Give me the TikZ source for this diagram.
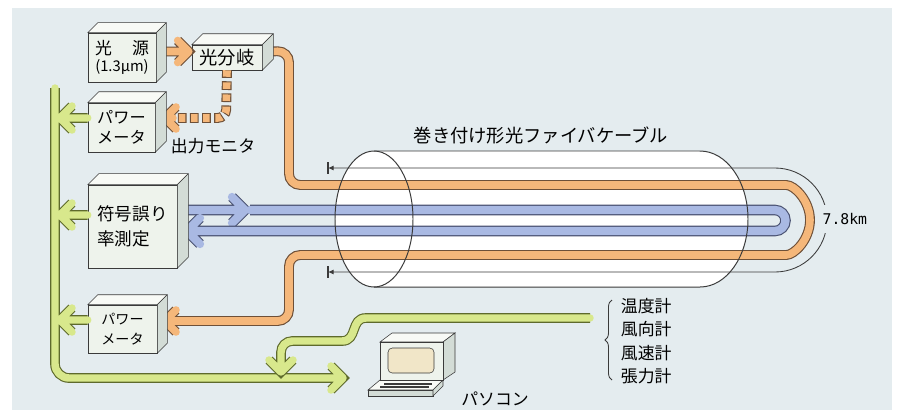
\documentclass[tikz,border=0pt]{standalone}
\usepackage{fontspec}
\setmainfont{Noto Sans CJK JP}
\newfontfamily\kmfont{DejaVu Sans Mono}
\usetikzlibrary{arrows.meta,calc,decorations.pathreplacing}

\definecolor{panel}{HTML}{E4ECEF}
\definecolor{ink}{HTML}{3A3A3A}
\definecolor{boxfront}{HTML}{EEF3EC}
\definecolor{boxtop}{HTML}{F8FAF6}
\definecolor{boxside}{HTML}{D3DCD6}
\definecolor{fibreor}{HTML}{F5B77A}
\definecolor{fibreorline}{HTML}{6E5038}
\definecolor{fibrebl}{HTML}{A9B9E3}
\definecolor{fibreblline}{HTML}{4A5272}
\definecolor{sig}{HTML}{D8E88C}
\definecolor{sigline}{HTML}{5E6A2C}
\definecolor{screen}{HTML}{F1E6C8}

\newcommand\fsz[2]{\fontsize{#1}{#2}\selectfont}
% top and side faces of a unit box
\newcommand\boxdepth[2]{%
  \filldraw[draw=ink, fill=boxtop, line join=round] (#1.north west) -- ++(#2,-#2)
    -- ($(#1.north east)+(#2,-#2)$) -- (#1.north east) -- cycle;
  \filldraw[draw=ink, fill=boxside, line join=round] (#1.north east) -- ++(#2,-#2)
    -- ($(#1.south east)+(#2,-#2)$) -- (#1.south east) -- cycle;}

\tikzset{
  unit/.style={draw=ink, fill=boxfront, inner sep=0pt},
  band/.style n args={3}{draw=#1, line width=#3, line cap=round, line join=round,
    preaction={draw=#2, line width=#3+1.6pt}},
  orband/.style={band={fibreor}{fibreorline}{5.4pt}},
  blband/.style={band={fibrebl}{fibreblline}{5.9pt}},
  sigband/.style={band={sig}{sigline}{5.3pt}},
  ordots/.style={draw=fibreor, line width=5.4pt, dash pattern=on 4.6pt off 4pt,
    preaction={draw=fibreorline, line width=7pt, dash pattern=on 6.2pt off 2.4pt, dash phase=0.8pt}},
  tip r/.style={insert path={++(-#1,-#1) -- ++(#1,#1) -- ++(-#1,#1)}},
  tip l/.style={insert path={++(#1,-#1) -- ++(-#1,#1) -- ++(#1,#1)}},
  tip d/.style={insert path={++(-#1,-#1) -- ++(#1,#1) -- ++(#1,-#1)}},
  thinline/.style={ink, line width=0.6pt}
}

\begin{document}
\begin{tikzpicture}[x=0.025cm,y=-0.025cm]
\useasboundingbox (0,0) rectangle (902,410);
\fill[white] (0,0) rectangle (902,410);
\fill[panel] (12,8) rectangle (892,410);

% units (faces added after the fibres)
\path node[unit, minimum width=1.7cm, minimum height=1.225cm, align=center] (src) at (122,57.5)
  {\fsz{12}{15}光\hspace{1.2em}源\\\fsz{10.5}{12}(1.3μm)};
\path node[unit, minimum width=1.75cm, minimum height=0.625cm, font=\fsz{13}{15}] (split) at (227,57.5) {光分岐};
\path node[unit, minimum width=1.675cm, minimum height=1.225cm, align=center, font=\fsz{11.5}{14.5}] (pm1) at (121.5,127.5) {パワー\\メータ};
\path node[unit, minimum width=2.225cm, minimum height=2.075cm, align=left, font=\fsz{12.5}{18}] (ber) at (132.5,226.5) {符号誤り\\率測定};
\path node[unit, minimum width=1.725cm, minimum height=1.2cm, align=center, font=\fsz{10}{14}] (pm2) at (122.5,329) {パワー\\メータ};

% cable body
\fill[white] (374,151) -- (700,151) arc[start angle=-90,end angle=90,x radius=48,y radius=68]
  -- (374,287) arc[start angle=90,end angle=270,x radius=39,y radius=68] -- cycle;

% orange fibre: source, splitter, loop, power meter
\draw[orband] ($(src.east)+(6,-6)$) -- ($(split.west)+(-3,-6)$) [tip r=11];
\draw[ordots, rounded corners=6pt] (split.south) -- (226,118) -- (173,118);
\draw[orband] (173,118) -- (165,118) [tip l=11];
\draw[orband, rounded corners=8pt] ($(split.east)+(6,-6)$) -- (289,51) -- (289,185) -- (775,185)
  arc[start angle=-90,end angle=90,radius=35] -- (289,255) -- (289,321) -- (165,321) [sharp corners, tip l=11];

% blue fibre: error rate test set
\draw[blband] ($(ber.east)+(6,-16.5)$) -- (245,210) [tip r=13];
\draw[blband] (250,210) -- (775,210) arc[start angle=-90,end angle=90,radius=10.5] -- (187,231) [tip l=13];

% green signal lines
\draw[sigband, rounded corners=10pt] (55,88) -- (55,378) -- (343,378) [sharp corners, tip r=12]
  (pm1.west |- 0,118) -- (60,118) [tip l=12]
  (ber.west |- 0,215) -- (60,215) [tip l=12]
  (pm2.west |- 0,320) -- (60,320) [tip l=12];
\draw[sigband] (590,318) -- (366,318) .. controls (350,318) and (358,341) .. (342,341)
  [rounded corners=8pt] -- (281,341) -- (281,372) [sharp corners, tip d=12];

% cable outline
\draw[ink, line width=0.7pt] (374,219) ellipse[x radius=39, y radius=68];
\draw[ink, line width=0.7pt] (374,151) -- (700,151) arc[start angle=-90,end angle=90,x radius=48,y radius=68] -- (374,287);

% wound length
\draw[thinline, {Latex[length=4pt,width=3.5pt]}-{Latex[length=4pt,width=3.5pt]}] (328,168) -- (775,168)
  arc[start angle=-90,end angle=90,radius=52] -- (328,272);
\draw[thinline, line width=0.8pt] (328,162) -- (328,174) (328,266) -- (328,278);
\node[fill=panel, inner xsep=1pt, inner ysep=6pt, anchor=west, font=\kmfont\fsz{10.5}{12}] (len) at (821,219) {7.8km};

% unit faces
\boxdepth{src}{10}
\boxdepth{split}{11}
\boxdepth{pm1}{11}
\boxdepth{ber}{11}
\boxdepth{pm2}{10}

% personal computer
\filldraw[draw=ink, fill=boxtop] (380,380) -- (443,380) -- (433,390) -- (368,390) -- cycle;
\filldraw[draw=ink, fill=boxside] (368,390) rectangle (433,396);
\filldraw[draw=ink, fill=boxside] (433,390) -- (443,380) -- (443,386) -- (433,396) -- cycle;
\draw[ink, line width=0.8pt] (384,384) -- (432,384) (380,387) -- (429,387);
\filldraw[draw=ink, fill=boxtop] (380,342) -- (392,333) -- (455,333) -- (443,342) -- cycle;
\filldraw[draw=ink, fill=boxside] (443,342) -- (455,333) -- (455,372) -- (443,380) -- cycle;
\filldraw[draw=ink, fill=boxfront] (380,342) rectangle (443,380);
\filldraw[draw=ink, fill=screen, rounded corners=3pt] (388,348) rectangle (434,373);
\coordinate (pc) at (412,362);

% sensors
\draw[thinline, decorate, decoration={brace, amplitude=5pt}] (612,380) -- (612,300);
\node[anchor=west, font=\fsz{12}{14}] (thermo) at (616,306) {温度計};
\node[anchor=west, font=\fsz{12}{14}] (vane) at (616,329) {風向計};
\node[anchor=west, font=\fsz{12}{14}] (anemo) at (616,353) {風速計};
\node[anchor=west, font=\fsz{12}{14}] (tension) at (616,376) {張力計};

% labels
\node[font=\fsz{12}{14}] (mon) at (213,146) {出力モニタ};
\node[font=\fsz{13}{15}] (cable) at (541,135) {巻き付け形光ファイバケーブル};
\node[font=\fsz{12}{14}] (pclabel) at (495,399) {パソコン};
\end{tikzpicture}
\end{document}
